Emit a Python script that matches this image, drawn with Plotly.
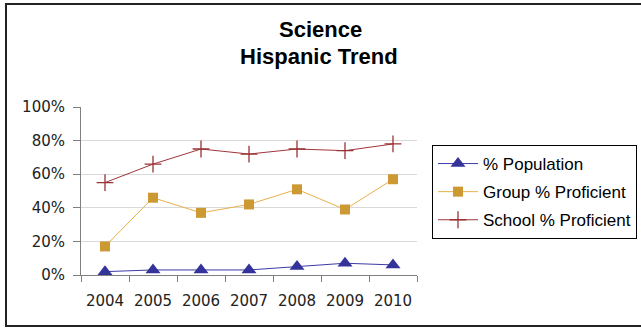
import plotly.graph_objects as go

years = ["2004", "2005", "2006", "2007", "2008", "2009", "2010"]
population = [2, 3, 3, 3, 5, 7, 6]
group_proficient = [17, 46, 37, 42, 51, 39, 57]
school_proficient = [55, 66, 75, 72, 75, 74, 78]

# plot-area geometry in pixels (used to place frame, title and legend in paper units)
W, H = 641, 328
L, R, T, B = 81, 224, 107, 53
pw, ph = W - L - R, H - T - B


def px_x(x):
    return (x - L) / pw


def px_y(y):
    return (H - B - y) / ph


fig = go.Figure()
fig.add_trace(go.Scatter(
    x=years, y=population, name="% Population", mode="lines+markers",
    legendgroup="a",
    line=dict(color="#3B3BA8", width=1),
    marker=dict(symbol="triangle-up", size=13, color="#333399"),
))
fig.add_trace(go.Scatter(
    x=years, y=group_proficient, name="Group % Proficient", mode="lines+markers",
    legendgroup="b",
    line=dict(color="#E8B04A", width=1),
    marker=dict(symbol="square", size=10, color="#CC9933"),
))
fig.add_trace(go.Scatter(
    x=years, y=school_proficient, name="School % Proficient", mode="lines+markers",
    legendgroup="c",
    line=dict(color="#A0353A", width=1),
    marker=dict(symbol="cross-thin", size=12, line=dict(color="#993333", width=1.3)),
))

title_font = dict(family="Liberation Sans, Arial", size=22, color="black")

fig.update_layout(
    width=W, height=H,
    margin=dict(l=L, r=R, t=T, b=B, autoexpand=False),
    paper_bgcolor="white", plot_bgcolor="white",
    showlegend=True,
    legend=dict(
        x=px_x(432), y=px_y(145), xanchor="left", yanchor="top",
        bordercolor="#000000", borderwidth=1, bgcolor="white",
        font=dict(family="Liberation Sans, Arial", size=17, color="black"),
        itemwidth=40, traceorder="grouped", tracegroupgap=3,
    ),
    annotations=[
        dict(text="<b>Science</b>", xref="paper", yref="paper",
             x=px_x(320), y=px_y(29.5), xanchor="center", yanchor="middle",
             showarrow=False, font=title_font),
        dict(text="<b>Hispanic Trend</b>", xref="paper", yref="paper",
             x=px_x(319), y=px_y(57), xanchor="center", yanchor="middle",
             showarrow=False, font=title_font),
    ],
    xaxis=dict(
        type="category", range=[-0.5, 6.5], automargin=False,
        showline=True, linecolor="#808080", linewidth=1,
        ticks="outside", tickson="boundaries", ticklen=6, tickcolor="#808080",
        showgrid=False, ticklabelstandoff=12, tickangle=0,
        tickfont=dict(family="DejaVu Sans", size=15, color="#222222"),
    ),
    yaxis=dict(
        range=[0, 100], dtick=20, ticksuffix="%", automargin=False,
        showline=True, linecolor="#808080", linewidth=1,
        ticks="outside", ticklen=7, tickcolor="#808080",
        showgrid=True, gridcolor="#D9D9D9", gridwidth=1,
        zeroline=False, ticklabelstandoff=5,
        tickfont=dict(family="DejaVu Sans", size=15, color="#222222"),
    ),
    shapes=[dict(
        type="rect", xref="paper", yref="paper",
        x0=px_x(6), x1=px_x(648), y0=px_y(326), y1=px_y(4),
        line=dict(color="#222222", width=2), fillcolor="rgba(0,0,0,0)", layer="below",
    )],
)

fig.write_html("out.html")
